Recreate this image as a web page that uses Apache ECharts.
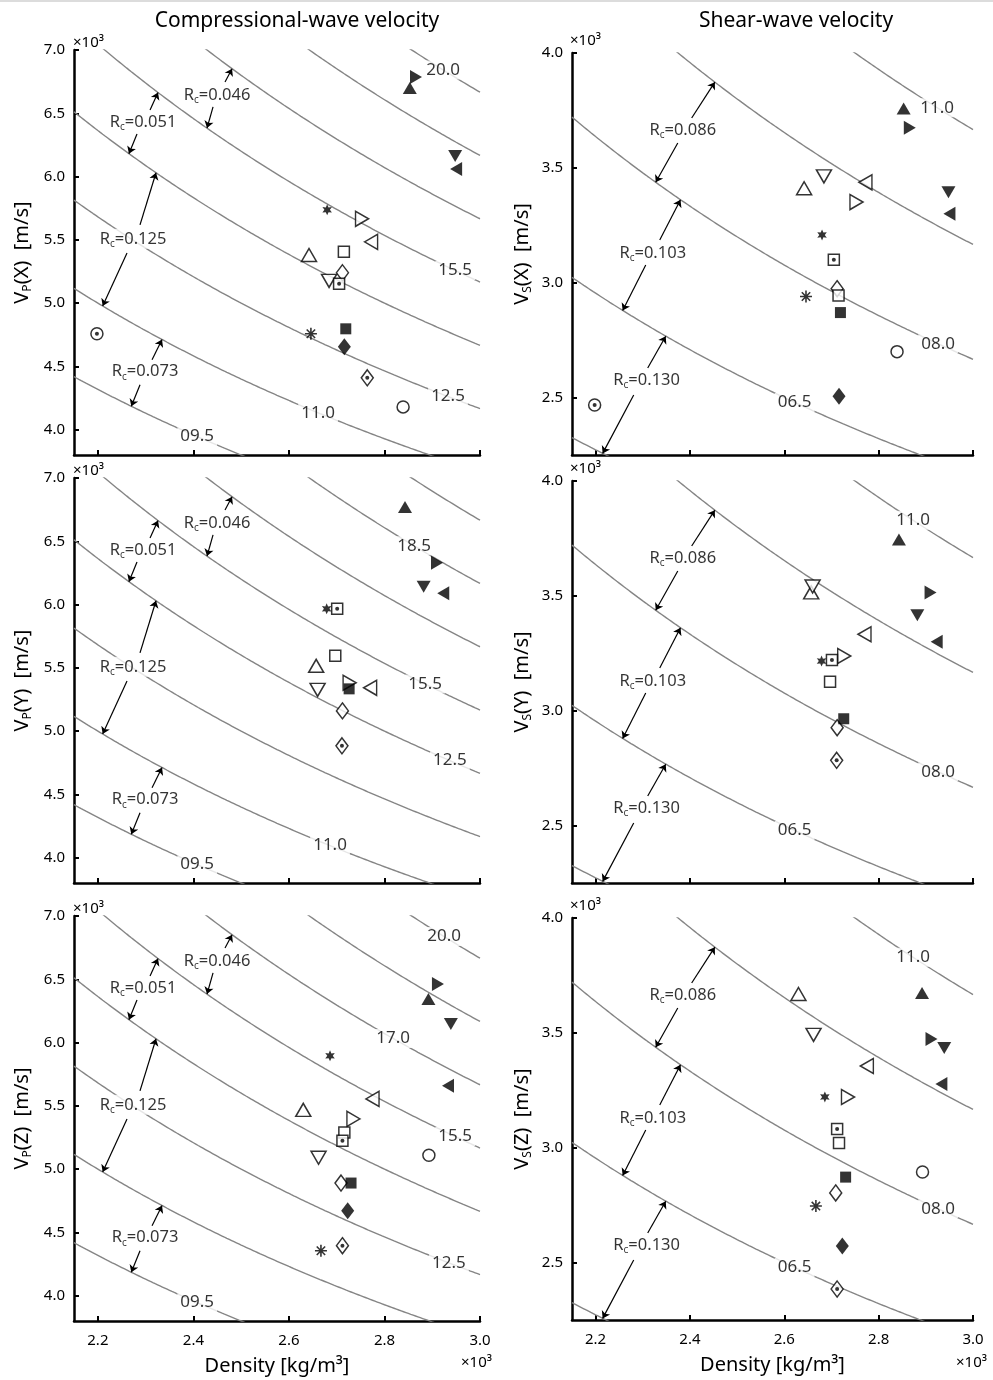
<!DOCTYPE html>
<html><head><meta charset="utf-8">
<script src="https://cdn.jsdelivr.net/npm/echarts@6/dist/echarts.min.js"></script>
<style>html,body{margin:0;padding:0;background:#fff}#c{width:993px;height:1380px}</style>
</head><body><div id="c"></div>
<script>
// ---------- DATA ----------
// Samples (marker types) in order:
// A filled tri up, B filled tri right, C filled tri down, D filled tri left, E six-point star,
// F open tri up, G open tri down, H open tri left, I open tri right, J open square,
// K square with dot, L open diamond, M diamond with dot, N filled square, O filled diamond,
// P asterisk, Q circle with dot, R open circle
const sampleIds = ['A','B','C','D','E','F','G','H','I','J','K','L','M','N','O','P','Q','R'];
const densityX = [2.853,2.866,2.948,2.950,2.680,2.642,2.684,2.772,2.753,2.715,2.705,2.712,2.764,2.719,2.716,2.646,2.198,2.839];
const densityY = [2.843,2.910,2.882,2.923,2.679,2.657,2.660,2.770,2.727,2.697,2.701,2.712,2.711,2.726,null,null,null,null];
const densityZ = [2.892,2.912,2.939,2.933,2.686,2.630,2.662,2.775,2.735,2.716,2.712,2.709,2.712,2.730,2.723,2.667,null,2.893];
const vpX = [6.70,6.787,6.163,6.06,5.737,5.38,5.176,5.484,5.666,5.405,5.153,5.24,4.41,4.797,4.655,4.758,4.758,4.18];
const vpY = [6.77,6.33,6.14,6.09,5.966,5.516,5.326,5.342,5.382,5.595,5.966,5.16,4.884,5.334,null,null,null,null];
const vpZ = [6.345,6.463,6.147,5.658,5.895,5.468,5.09,5.555,5.397,5.29,5.224,4.89,4.395,4.89,4.671,4.355,null,5.11];
const vsX = [3.758,3.675,3.394,3.30,3.208,3.411,3.463,3.437,3.351,2.944,3.10,2.974,null,2.87,2.506,2.94,2.468,2.70];
const vsY = [3.745,3.515,3.416,3.30,3.216,3.515,3.541,3.333,3.238,3.126,3.221,2.926,2.784,2.965,null,null,null,null];
const vsZ = [3.673,3.473,3.434,3.277,3.221,3.669,3.491,3.356,3.221,3.02,3.081,2.803,2.385,2.872,2.572,2.746,null,2.894];

// iso-impedance levels (x10^6 kg/m^2 s)
const vpLevels = [9.5,11.0,12.5,14.0,15.5,17.0,18.5,20.0];
const vsLevels = [5.0,6.5,8.0,9.5,11.0];
// labelled levels per panel: [level of the curve carrying the label, density where label sits, text]
const vpLabelsX = [[20.0,2.923,'20.0'],[15.5,2.948,'15.5'],[12.5,2.933,'12.5'],[11.0,2.661,'11.0'],[9.5,2.408,'09.5']];
const vpLabelsY = [[18.5,2.862,'18.5'],[15.5,2.885,'15.5'],[14.0,2.937,'12.5'],[11.0,2.686,'11.0'],[9.5,2.408,'09.5']];
const vpLabelsZ = [[20.0,2.925,'20.0'],[17.0,2.818,'17.0'],[15.5,2.948,'15.5'],[12.5,2.935,'12.5'],[9.5,2.408,'09.5']];
const vsLabelsX = [[11.0,2.924,'11.0'],[8.0,2.926,'08.0'],[6.5,2.622,'06.5']];
const vsLabelsY = [[11.0,2.873,'11.0'],[8.0,2.926,'08.0'],[6.5,2.622,'06.5']];
const vsLabelsZ = [[11.0,2.873,'11.0'],[8.0,2.926,'08.0'],[6.5,2.622,'06.5']];
// reflection-coefficient annotations: [text, textX, textY, [startX,startY,tipX,tipY], [startX,startY,tipX,tipY]]
const rcVp = [
  ['0.046',2.4495,6.645,[2.4662,6.747,2.4809,6.852],[2.4411,6.550,2.4285,6.383]],
  ['0.051',2.2945,6.432,[2.3092,6.526,2.3259,6.664],[2.2819,6.337,2.265,6.181]],
  ['0.125',2.2736,5.508,[2.2882,5.618,2.3217,6.030],[2.2610,5.397,2.21,4.977]],
  ['0.073',2.2987,4.458,[2.3134,4.553,2.3343,4.712],[2.2882,4.355,2.27,4.185]]
];
const rcVs = [
  ['0.086',2.3848,3.665,[2.4037,3.717,2.4528,3.873],[2.3742,3.608,2.3275,3.437]],
  ['0.103',2.3212,3.129,[2.336,3.186,2.38,3.361],[2.3063,3.077,2.2574,2.879]],
  ['0.130',2.3082,2.576,[2.3105,2.629,2.3487,2.767],[2.2808,2.511,2.215,2.257]]
];
const xTicks = [2.2,2.4,2.6,2.8,3.0];
const vpTicks = [4.0,4.5,5.0,5.5,6.0,6.5,7.0];
const vsTicks = [2.5,3.0,3.5,4.0];

// ---------- STYLE ----------
const FONT = '"Noto Sans", "Open Sans", sans-serif';
const K = '#000';
const star6 = 'path://M0,-10L2.5,-4.33L8.66,-5L5,0L8.66,5L2.5,4.33L0,10L-2.5,4.33L-8.66,5L-5,0L-8.66,-5L-2.5,-4.33Z';
const asterisk = 'path://M0,-10L0,10M-10,0L10,0M-7,-7L7,7M-7,7L7,-7';
const markerStyle = {
  A:{symbol:'triangle',size:[14,12],rot:0,fill:true},
  B:{symbol:'triangle',size:[14,12],rot:-90,fill:true},
  C:{symbol:'triangle',size:[14,12],rot:180,fill:true},
  D:{symbol:'triangle',size:[14,12],rot:90,fill:true},
  E:{symbol:star6,size:11,rot:0,fill:true},
  F:{symbol:'triangle',size:[15,13],rot:0,fill:false},
  G:{symbol:'triangle',size:[15,13],rot:180,fill:false},
  H:{symbol:'triangle',size:[15,13],rot:90,fill:false},
  I:{symbol:'triangle',size:[15,13],rot:-90,fill:false},
  J:{symbol:'rect',size:11,rot:0,fill:false},
  K:{symbol:'rect',size:11,rot:0,fill:false,dot:true},
  L:{symbol:'diamond',size:[12,16],rot:0,fill:false,z:4},
  M:{symbol:'diamond',size:[12,16],rot:0,fill:false,dot:true,z:4},
  N:{symbol:'rect',size:11,rot:0,fill:true},
  O:{symbol:'diamond',size:[13,17],rot:0,fill:true,z:4},
  P:{symbol:asterisk,size:12,rot:0,fill:false,stroke:true},
  Q:{symbol:'circle',size:12,rot:0,fill:false,dot:true},
  R:{symbol:'circle',size:12,rot:0,fill:false}
};

const panels = [
  {kind:'vp',dens:densityX,vel:vpX,dir:'X',labels:vpLabelsX,row:0},
  {kind:'vs',dens:densityX,vel:vsX,dir:'X',labels:vsLabelsX,row:0},
  {kind:'vp',dens:densityY,vel:vpY,dir:'Y',labels:vpLabelsY,row:1},
  {kind:'vs',dens:densityY,vel:vsY,dir:'Y',labels:vsLabelsY,row:1},
  {kind:'vp',dens:densityZ,vel:vpZ,dir:'Z',labels:vpLabelsZ,row:2},
  {kind:'vs',dens:densityZ,vel:vsZ,dir:'Z',labels:vsLabelsZ,row:2}
];
const vpTops = [50,478,916], vsTops = [53,481,918];

const grids = [], xAxes = [], yAxes = [], series = [];
function curve(Z){const pts=[];for(let k=0;k<=170;k++){const r=2.15+k*0.005;pts.push([r,Z/r]);}return pts;}
const rcRich = {
  r:{fontSize:16.5,fontFamily:FONT,color:K,lineHeight:20,textBorderWidth:0},
  s:{fontSize:10,fontFamily:FONT,color:K,lineHeight:11,verticalAlign:'bottom',textBorderWidth:0}
};

panels.forEach((p,i)=>{
  const isVp = p.kind==='vp';
  grids.push(isVp ? {left:74,top:vpTops[p.row],width:406,height:405} : {left:572,top:vsTops[p.row],width:401,height:402});
  const bottomRow = p.row===2;
  xAxes.push({
    gridIndex:i,type:'value',min:2.15,max:3.0,
    axisLine:{show:true,onZero:false,lineStyle:{color:K,width:2.5}},
    axisTick:{show:true,inside:true,length:5,lineStyle:{color:K,width:2},customValues:xTicks},
    axisLabel:{show:bottomRow,customValues:xTicks,formatter:v=>v.toFixed(1),fontSize:15,color:K,fontFamily:FONT,margin:12},
    splitLine:{show:false},
    name:bottomRow?'Density [kg/m³]':'',nameLocation:'middle',nameGap:35,
    nameTextStyle:{fontSize:20,color:K,fontFamily:FONT}
  });
  yAxes.push({
    gridIndex:i,type:'value',min:isVp?3.8:2.25,max:isVp?7.0:4.0,
    axisLine:{show:true,onZero:false,lineStyle:{color:K,width:2.5}},
    axisTick:{show:true,inside:true,length:5,lineStyle:{color:K,width:2},customValues:isVp?vpTicks:vsTicks},
    axisLabel:{customValues:isVp?vpTicks:vsTicks,formatter:v=>v.toFixed(1),fontSize:15,color:K,fontFamily:FONT,margin:9},
    splitLine:{show:false},
    name:'{v|V}{s|'+(isVp?'P':'S')+'}{v|('+p.dir+')  [m/s]}',
    nameLocation:'middle',nameGap:isVp?40:38,nameRotate:90,
    nameTextStyle:{rich:{
      v:{fontSize:20,fontFamily:FONT,color:K,lineHeight:24},
      s:{fontSize:12,fontFamily:FONT,color:K,lineHeight:13,verticalAlign:'bottom'}
    }}
  });
  // contour lines
  (isVp?vpLevels:vsLevels).forEach(Z=>{
    series.push({type:'line',xAxisIndex:i,yAxisIndex:i,data:curve(Z),showSymbol:false,symbol:'none',silent:true,
      lineStyle:{color:'#858585',width:1.4},z:1,animation:false,clip:true});
  });
  // contour labels
  series.push({type:'scatter',xAxisIndex:i,yAxisIndex:i,silent:true,z:3,animation:false,
    symbolSize:1,itemStyle:{color:'rgba(0,0,0,0)'},
    data:p.labels.map(l=>[l[1],l[0]/l[1],l[2]]),
    label:{show:true,position:'inside',formatter:d=>d.value[2],fontSize:17,fontFamily:FONT,color:K,textBorderWidth:0,
      backgroundColor:'#fff',padding:[1,3]}
  });
  // Rc annotations
  const rc = isVp?rcVp:rcVs;
  const segs=[];
  rc.forEach(a=>{segs.push({coords:[[a[3][0],a[3][1]],[a[3][2],a[3][3]]]});segs.push({coords:[[a[4][0],a[4][1]],[a[4][2],a[4][3]]]});});
  series.push({type:'lines',coordinateSystem:'cartesian2d',xAxisIndex:i,yAxisIndex:i,silent:true,z:3,animation:false,
    symbol:['none','arrow'],symbolSize:7,lineStyle:{color:K,width:1.2,opacity:1,curveness:0},data:segs});
  series.push({type:'scatter',xAxisIndex:i,yAxisIndex:i,silent:true,z:3,animation:false,
    symbolSize:1,itemStyle:{color:'rgba(0,0,0,0)'},
    data:rc.map(a=>[a[1],a[2],a[0]]),
    label:{show:true,position:'inside',formatter:d=>'{r|R}{s|c}{r|='+d.value[2]+'}',rich:rcRich,
      backgroundColor:'#fff',padding:[0,1],textBorderWidth:0}
  });
  // samples
  sampleIds.forEach((id,s)=>{
    const x=p.dens[s], y=p.vel[s];
    if(x==null||y==null) return;
    const m=markerStyle[id];
    series.push({type:'scatter',name:id,xAxisIndex:i,yAxisIndex:i,animation:false,z:m.z||5,
      symbol:m.symbol,symbolSize:m.size,symbolRotate:m.rot,symbolKeepAspect:true,
      itemStyle:m.fill?{color:K,borderWidth:0}:(m.stroke?{color:'rgba(0,0,0,0)',borderColor:K,borderWidth:1.6}:{color:'#fff',borderColor:K,borderWidth:1.5}),
      data:[[x,y]]});
    if(m.dot){
      series.push({type:'scatter',xAxisIndex:i,yAxisIndex:i,animation:false,z:(m.z||5)+0.5,silent:true,
        symbol:'circle',symbolSize:4,itemStyle:{color:K},data:[[x,y]]});
    }
  });
});

const graphics = [
  {type:'rect',shape:{x:0,y:0,width:993,height:2},style:{fill:'#dcdcdc'}},
  {type:'text',x:297,y:21,style:{text:'Compressional-wave velocity',font:'21px '+FONT,fill:K,align:'center',verticalAlign:'middle'}},
  {type:'text',x:796,y:21,style:{text:'Shear-wave velocity',font:'21px '+FONT,fill:K,align:'center',verticalAlign:'middle'}}
];
vpTops.forEach(t=>graphics.push({type:'text',x:73,y:t-7,style:{text:'×10³',font:'15px '+FONT,fill:K,align:'left',verticalAlign:'middle'}}));
vsTops.forEach(t=>graphics.push({type:'text',x:570,y:t-12,style:{text:'×10³',font:'15px '+FONT,fill:K,align:'left',verticalAlign:'middle'}}));
graphics.push({type:'text',x:461,y:1363,style:{text:'×10³',font:'15px '+FONT,fill:K,align:'left',verticalAlign:'middle'}});
graphics.push({type:'text',x:956,y:1363,style:{text:'×10³',font:'15px '+FONT,fill:K,align:'left',verticalAlign:'middle'}});

const chart = echarts.init(document.getElementById('c'),null,{renderer:'canvas'});
chart.setOption({backgroundColor:'#fff',animation:false,grid:grids,xAxis:xAxes,yAxis:yAxes,series:series,graphic:graphics});
</script></body></html>
